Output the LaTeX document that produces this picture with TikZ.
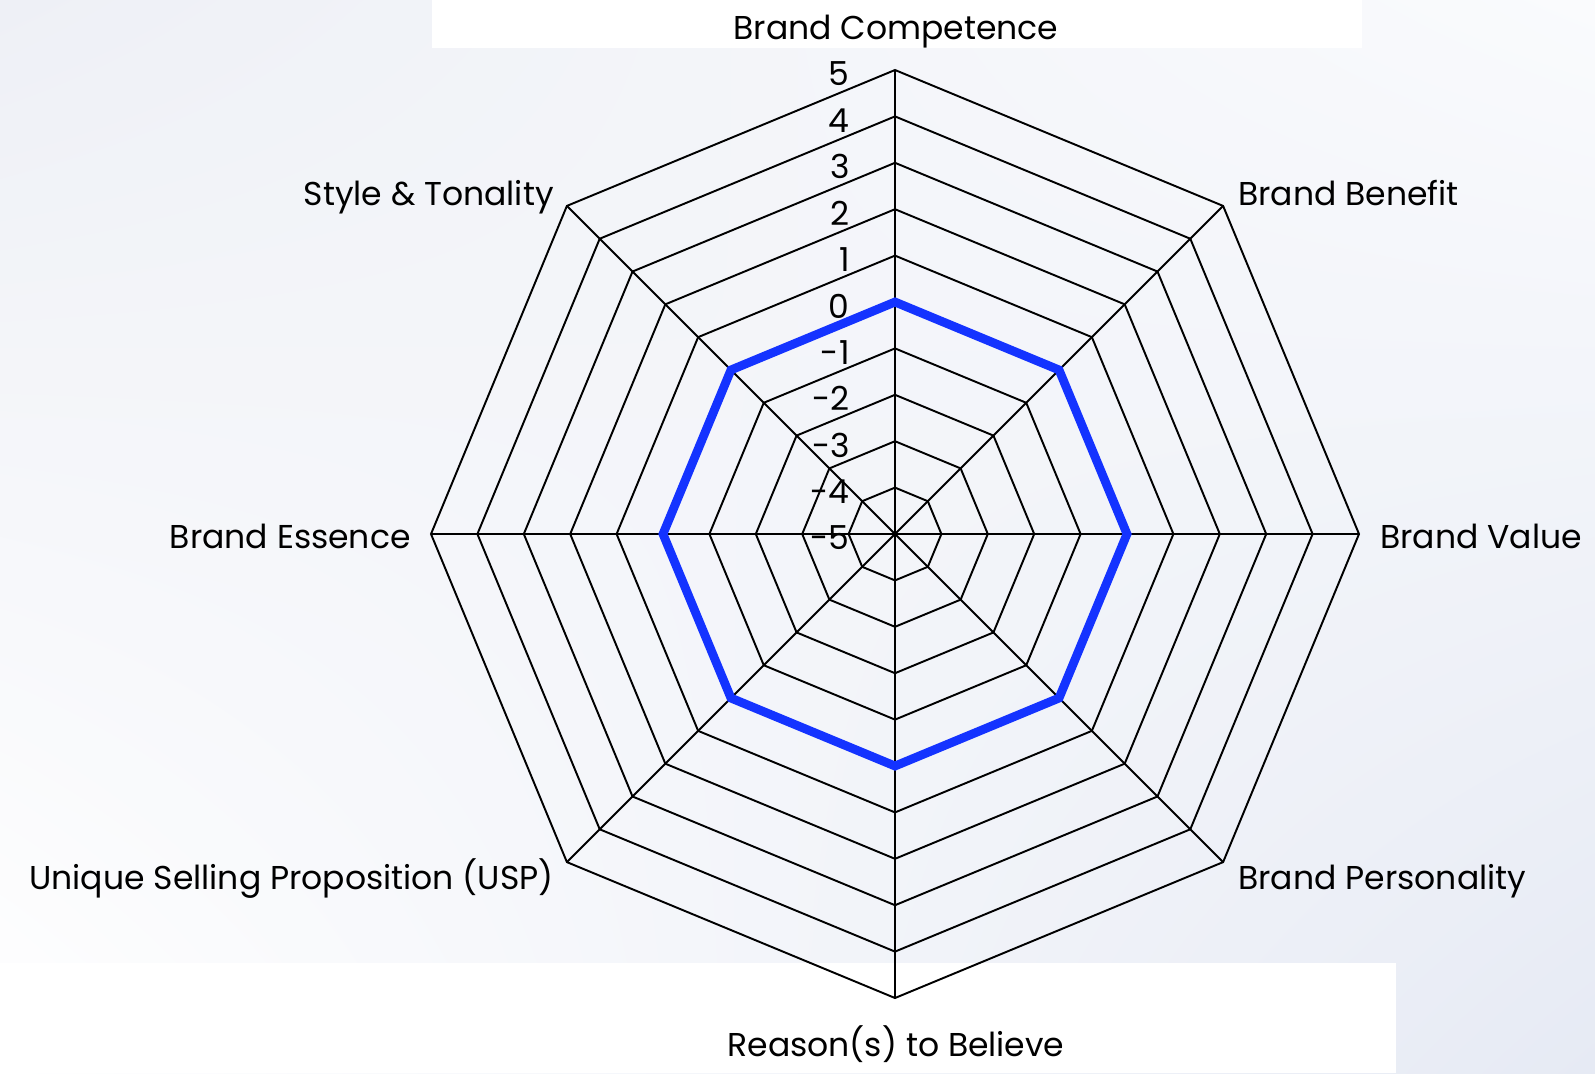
\documentclass[tikz,border=0pt]{standalone}
\usepackage{fontspec}
\setmainfont{Poppins}
\usetikzlibrary{positioning, calc, shadings}
\definecolor{bgul}{HTML}{EEF0F6}
\definecolor{bgur}{HTML}{FAFBFD}
\definecolor{bgll}{HTML}{FFFFFF}
\definecolor{bglr}{HTML}{E6EAF4}
\definecolor{scoreblue}{HTML}{1433FF}
\tikzset{
  x=0.02cm, y=-0.02cm,
  grid/.style={black, line width=1.1pt, line join=miter},
  score/.style={scoreblue, line width=5pt, line join=miter},
  axislabel/.style={font=\fontsize{18.8}{22}\selectfont, inner sep=0pt},
  ticklabel/.style={font=\fontsize{18.8}{22}\selectfont, inner sep=0pt, anchor=east},
}

\begin{document}
\begin{tikzpicture}
		% background
		\useasboundingbox (0,0) rectangle (1595,1073);
		\shade[upper left=bgul, upper right=bgur, lower left=bgll, lower right=bglr] (0,0) rectangle (1595,1073);
		\fill[white] (432,0) rectangle (1362,48);
		\fill[white] (0,963) rectangle (1396,1073);

		% vertices
		\coordinate (c) at (895,534);
		\foreach \l in {1,...,10} {
			\foreach \a in {1,...,8} {
				\coordinate (v\l-\a) at ({895+46.4*\l*cos(90-45*(\a-1))}, {534-46.4*\l*sin(90-45*(\a-1))});
			}
		}

		% rings and spokes
		\foreach \l in {1,...,10} {
			\draw[grid] (v\l-1) -- (v\l-2) -- (v\l-3) -- (v\l-4) -- (v\l-5) -- (v\l-6) -- (v\l-7) -- (v\l-8) -- cycle;
		}
		\foreach \a in {1,...,8} {
			\draw[grid] (c) -- (v10-\a);
		}

		% score
		\draw[score] (v5-1) -- (v5-2) -- (v5-3) -- (v5-4) -- (v5-5) -- (v5-6) -- (v5-7) -- (v5-8) -- cycle;

		% scale
		\foreach \l [evaluate=\l as \v using int(\l-5)] in {0,...,10} {
			\node[ticklabel] (t\l) at (850, {538-46.4*\l}) {\v};
		}

		% axis labels
		\node[axislabel, anchor=base] (competence) at (896,39) {Brand Competence};
		\node[axislabel, anchor=base west] (benefit) at (1238,205) {Brand Benefit};
		\node[axislabel, anchor=base west] (value) at (1380,548) {Brand Value};
		\node[axislabel, anchor=base west] (personality) at (1238,889) {Brand Personality};
		\node[axislabel, anchor=base] (reason) at (896,1056) {Reason(s) to Believe};
		\node[axislabel, anchor=base east] (usp) at (554,889) {Unique Selling Proposition (USP)};
		\node[axislabel, anchor=base east] (essence) at (411,548) {Brand Essence};
		\node[axislabel, anchor=base east] (style) at (554,205) {Style \& Tonality};

	\end{tikzpicture}
\end{document}
